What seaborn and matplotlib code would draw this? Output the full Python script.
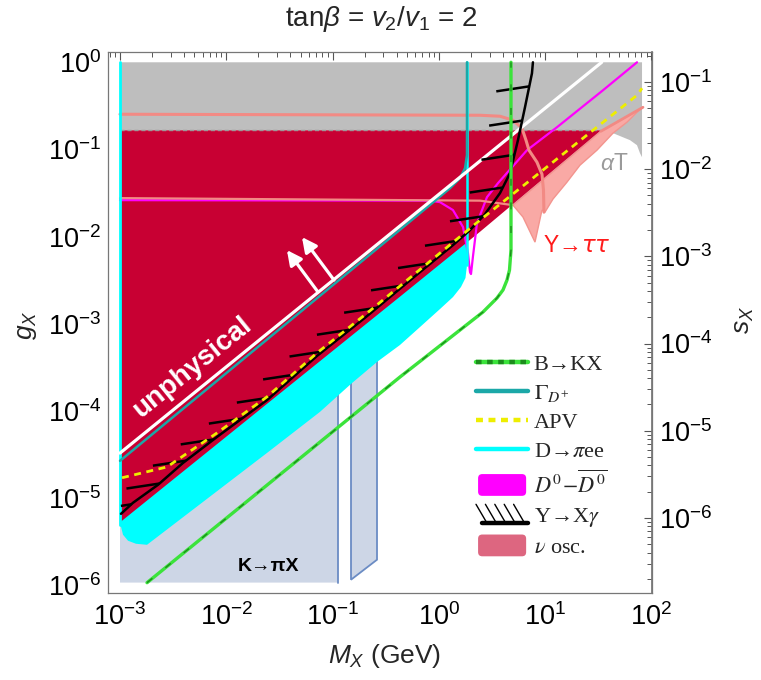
import numpy as np
import matplotlib
matplotlib.use("Agg")
import matplotlib.pyplot as plt
import seaborn as sns
from matplotlib.lines import Line2D
from matplotlib.patches import Patch, FancyBboxPatch
from matplotlib.legend_handler import HandlerBase, HandlerTuple
from matplotlib.font_manager import FontProperties
from matplotlib.ticker import LogLocator, FixedLocator, NullFormatter

sns.set_theme(style="white")
plt.rcParams["font.family"] = ["Liberation Sans", "DejaVu Sans"]
plt.rcParams["mathtext.fontset"] = "custom"
plt.rcParams["mathtext.rm"] = "Liberation Sans"
plt.rcParams["mathtext.it"] = "Liberation Sans:italic"
plt.rcParams["mathtext.bf"] = "Liberation Sans:bold"
plt.rcParams["lines.scale_dashes"] = False

# ---------------- data: M_X (GeV) and g_X ----------------
M_MIN, M_MAX = 1.0e-3, 100.0
G_MIN, G_MAX = 1.08e-6, 1.0
S_OVER_G = 0.168          # s_X / g_X (right axis)

x_ticks = [1e-3, 1e-2, 1e-1, 1e0, 1e1, 1e2]
y_ticks = [1e-6, 1e-5, 1e-4, 1e-3, 1e-2, 1e-1, 1e0]
s_ticks = [1e-6, 1e-5, 1e-4, 1e-3, 1e-2, 1e-1]

# alpha T exclusion (gray)
aT_M = [1e-3, 81.5, 81.5, 78.0, 73.1, 62.8, 54.0, 43.4, 33.5, 1e-3]
aT_g = [1.0, 1.0, 0.0816, 0.0907, 0.112, 0.128, 0.138, 0.154, 0.166, 0.166]

# main excluded region (crimson)
crim_M = [1e-3, 33.5, 2.44, 0.43, 1e-3]
crim_g = [0.166, 0.166, 0.0114, 2.05e-3, 5.3e-6]

# D -> pi e e region (cyan)
dpee_M = [1e-3, 0.43, 1.84, 1.84, 1.779, 1.614, 1.357, 1.024, 0.664, 0.4305, 0.2617,
          0.149, 0.0761, 0.0242, 1.795e-3, 1.414e-3, 1.19e-3, 1.067e-3, 1.022e-3, 1e-3]
dpee_g = [8e-6, 2.6e-3, 0.0105, 4.73e-3, 3.36e-3, 2.65e-3, 2.03e-3, 1.48e-3, 9.2e-4, 5.73e-4,
          3.66e-4, 2.05e-4, 9.8e-5, 3.32e-5, 2.93e-6, 3.01e-6, 3.26e-6, 3.82e-6, 4.72e-6, 5.67e-6]

# K -> pi X regions
kpi1_M = [1e-3, 0.1125, 0.1125, 1e-3]
kpi1_g = [G_MIN, G_MIN, 1.75e-4, 5.5e-6]
kpi2_M = [0.149, 0.149, 0.2617, 0.2617]
kpi2_g = [1.165e-6, 2.4e-4, 4.4e-4, 1.976e-6]

# nu oscillation region (light) and its boundaries
nuf_M = [4.98, 33.5, 83.2, 73.1, 58.8, 43.4, 30.7, 21.26, 16.03, 11.84, 9.95, 9.33, 8.02, 6.18]
nuf_g = [0.0230, 0.162, 0.305, 0.2675, 0.2055, 0.1537, 0.0982, 0.0661, 0.0422, 0.0270,
         0.0191, 0.0202, 8.67e-3, 0.0168]
nu1_M = [1e-3, 2.44, 3.757, 4.98, 6.05, 6.60, 7.04, 8.37, 9.33, 9.64, 9.74]
nu1_g = [0.2537, 0.247, 0.2406, 0.2166, 0.1754, 0.1278, 0.0982, 0.0715, 0.0521, 0.0342, 0.0191]
nu2_M = [1e-3, 2.44, 4.98]
nu2_g = [0.0277, 0.0259, 0.0230]
nu3_M = [33.5, 83.2]
nu3_g = [0.162, 0.305]

# B -> K X
bkx_M = [1.795e-3, 0.4305, 2.599, 3.52, 4.01, 4.373, 4.615, 4.768, 4.768]
bkx_g = [1.077e-6, 2.46e-4, 1.368e-3, 1.98e-3, 2.45e-3, 3.18e-3, 4.14e-3, 7.03e-3, 1.0]

# unphysical boundary
unph_M = [1e-3, 34.0]
unph_g = [3.3e-5, 1.0]

# Gamma_D+
gam_M = [1.0e-3, 0.664, 1.272, 1.579, 1.761, 1.838, 1.838]
gam_g = [2.69e-5, 0.0186, 0.0360, 0.0469, 0.0610, 0.0861, 1.0]

# APV
apv_M = [1.045e-3, 2.77e-3, 8.18e-3, 0.0242, 0.0713, 0.211, 2.44, 73.1, 81.5]
apv_g = [1.72e-5, 2.29e-5, 5.62e-5, 1.46e-4, 4.64e-4, 1.33e-3, 0.0155, 0.419, 0.504]

# Upsilon -> X gamma
ups_M = [1.022e-3, 1.324e-3, 2.28e-3, 3.92e-3, 8.18e-3, 0.0242, 0.0713, 0.211, 0.664,
         1.357, 1.962, 2.716, 3.757, 4.666, 5.546, 6.457, 7.51, 7.67]
ups_g = [6.64e-6, 8.88e-6, 1.43e-5, 2.55e-5, 5.06e-5, 1.34e-4, 4.29e-4, 1.23e-3, 3.93e-3,
         8.01e-3, 0.0119, 0.01815, 0.0316, 0.0536, 0.128, 0.305, 0.748, 1.0]

# D0 - D0bar mixing
dd_M = [1e-3, 0.825, 1.024, 1.357, 1.686, 1.878, 1.962, 2.005, 2.094, 2.283, 2.835, 3.597,
        6.744, 12.91, 35.0, 73.1]
dd_g = [0.02625, 0.0259, 0.0249, 0.0202, 0.0129, 6.49e-3, 3.93e-3, 3.73e-3, 5.99e-3, 0.0143,
        0.0284, 0.0411, 0.0982, 0.180, 0.478, 1.0]

# D -> pi e e boundary lines
dpee_left_M = [1.01e-3, 1.01e-3]
dpee_left_g = [5.0e-6, 1.0]
dpee_right_M = [1.84, 1.84]
dpee_right_g = [4.7e-3, 1.0]

# arrows (tail, head)
arrows = [((0.0729, 2.32e-3), (0.0372, 7.02e-3)), ((0.1031, 3.18e-3), (0.0515, 9.9e-3))]

legend_labels = ["B→KX", r"$\Gamma_{D^{+}}$", "APV", r"D→$\pi$ee",
                 r"$D^0\!-\!\overline{D^0}$", r"Υ→X$\gamma$", r"$\nu$ osc."]

# ---------------- colours ----------------
C_GRAY = "#BEBEBE"
C_CRIM = "#C80033"
C_CYAN = "#00FFFF"
C_KPI = "#CDD6E6"
C_KPI_E = "#6B8CC4"
C_NUF = "#F9A9A5"
C_SALM = "#F28A84"
C_MAG = "#FF00FF"
C_TEAL = "#1BA8A8"
C_YEL = "#EEEE00"
C_GRN = "#3BE33B"
C_DGRN = "#1C8C1C"

fig = plt.figure(figsize=(7.61, 6.8), dpi=100)
ax = fig.add_axes([108/761, 87/680, 544/761, 541/680])
ax.set_xscale("log")
ax.set_yscale("log")
ax.set_xlim(10**-3.113, 10**2.005)
ax.set_ylim(10**-6.086, 10**0.118)
ax.xaxis.set_major_locator(FixedLocator(x_ticks))
ax.yaxis.set_major_locator(FixedLocator(y_ticks))
ax.xaxis.set_minor_locator(LogLocator(base=10, subs=np.arange(2, 10)))
ax.yaxis.set_minor_locator(LogLocator(base=10, subs=np.arange(2, 10)))
ax.xaxis.set_minor_formatter(NullFormatter())
ax.yaxis.set_minor_formatter(NullFormatter())


def line(M, g, color, lw, z, dashes=None, **kw):
    sns.lineplot(x=M, y=g, sort=False, estimator=None, color=color, lw=lw,
                 zorder=z, ax=ax, **kw)
    ln = ax.lines[-1]
    if dashes is not None:
        ln.set_dashes(dashes)
    return ln


# regions
ax.fill(kpi1_M, kpi1_g, color=C_KPI, lw=0, zorder=1)
line([0.1125, 0.1125], [G_MIN, 1.75e-4], C_KPI_E, 1.3, 1.1)
ax.fill(kpi2_M, kpi2_g, facecolor=C_KPI, edgecolor=C_KPI_E, lw=1.3, zorder=1)
ax.fill(aT_M, aT_g, color=C_GRAY, lw=0, zorder=1)
ax.fill(nuf_M, nuf_g, facecolor=C_NUF, edgecolor="#F3948E", lw=1.0, zorder=2)
ax.fill(dpee_M, dpee_g, color=C_CYAN, lw=0, zorder=2)
ax.fill(crim_M, crim_g, color=C_CRIM, lw=0, zorder=3)
line([1e-3, 33.5], [0.166, 0.166], "#9A9A9A", 1.0, 3.5, dashes=(3, 2))

# boundary lines
line(nu1_M, nu1_g, C_SALM, 2.2, 4.2)
line(nu3_M, nu3_g, C_SALM, 2.0, 4.2)
line(dd_M, dd_g, C_MAG, 1.6, 4.0)
line(nu2_M, nu2_g, C_SALM, 1.6, 4.1)
line(dpee_left_M, dpee_left_g, C_CYAN, 2.0, 4.3)
line(dpee_right_M, dpee_right_g, C_CYAN, 1.8, 4.3)
line(gam_M, gam_g, C_TEAL, 1.8, 4.5)
line(unph_M, unph_g, "white", 2.3, 5.0)
line(ups_M, ups_g, "black", 1.8, 5.5)
line(apv_M, apv_g, C_YEL, 2.0, 6.0, dashes=(5, 4))
line(bkx_M, bkx_g, C_GRN, 2.4, 7.0)
line(bkx_M, bkx_g, C_DGRN, 1.0, 7.1, dashes=(5, 12))

# hatches on the Upsilon -> X gamma bound
pts = ax.transData.transform(np.column_stack([ups_M, ups_g]))
seg = np.hypot(*np.diff(pts, axis=0).T)
s = np.concatenate([[0], np.cumsum(seg)])
xmin_disp = ax.transData.transform((M_MIN * 1.02, 1.0))[0]
off = np.array([-33.0, -5.0])
for t in np.arange(14, s[-1] - 8, 35):
    p = np.array([np.interp(t, s, pts[:, 0]), np.interp(t, s, pts[:, 1])])
    q = p + off
    if q[0] < xmin_disp:
        q = p + off * (p[0] - xmin_disp) / 33.0
    P = ax.transData.inverted().transform(np.vstack([q, p]))
    ax.plot(P[:, 0], P[:, 1], color="black", lw=1.8, solid_capstyle="butt", zorder=5.5)

# arrows
for tail, head in arrows:
    ax.annotate("", xy=head, xytext=tail,
                arrowprops=dict(arrowstyle="-|>", color="white", lw=2.3,
                                mutation_scale=22, shrinkA=0, shrinkB=0), zorder=8)

# labels inside the plot
ax.text(4.75e-3, 3.2e-4, "unphysical", color="white", fontsize=20, fontweight="bold",
        rotation=39, ha="center", va="center", rotation_mode="anchor", zorder=9)
ax.text(19.9, 8.0e-3, r"Υ→$\tau\tau$", color="#FF1A1A", fontsize=16.5, ha="center",
        va="center", zorder=9, math_fontfamily="dejavusans")
ax.text(44.5, 0.0697, r"$\alpha$T", color="#9A9A9A", fontsize=16.5, ha="center",
        va="center", zorder=9)
ax.text(0.0252, 1.64e-6, "K→πX", color="black", fontsize=14, fontweight="bold",
        ha="center", va="center", zorder=9)

# axes styling
for sp in ax.spines.values():
    sp.set_color("#777777")
    sp.set_linewidth(0.9)
ax.tick_params(which="both", direction="in", top=True, right=False, colors="#555555",
               labelcolor="black", labelsize=19.5)
ax.tick_params(which="major", length=6, width=0.8)
ax.tick_params(which="minor", length=3.5, width=0.7)
ax.tick_params(axis="x", pad=7)
ax.tick_params(axis="y", pad=5)

sec = ax.secondary_yaxis("right", functions=(lambda g: g * S_OVER_G, lambda sv: sv / S_OVER_G))
sec.yaxis.set_major_locator(FixedLocator(s_ticks))
sec.yaxis.set_minor_locator(LogLocator(base=10, subs=np.arange(2, 10)))
sec.yaxis.set_minor_formatter(NullFormatter())
sec.tick_params(which="both", direction="in", colors="#555555", labelcolor="black",
                labelsize=19.5, pad=5)
sec.tick_params(which="major", length=6, width=0.8)
sec.tick_params(which="minor", length=3.5, width=0.7)
sec.spines["right"].set_color("#777777")

fig.text(381/761, 1 - 19/680, r"tan$\beta$ = $v_2/v_1$ = 2", fontsize=20,
         ha="center", va="center")
fig.text(385/761, 1 - 656/680, r"$M_X$ (GeV)", fontsize=19, ha="center", va="center")
fig.text(27/761, 1 - 325/680, r"$g_X$", fontsize=19, ha="center", va="center", rotation=90)
fig.text(744/761, 1 - 320/680, r"$s_X$", fontsize=19, ha="center", va="center", rotation=90)


# legend
class HatchKey:
    pass


class HatchHandler(HandlerBase):
    def create_artists(self, legend, orig_handle, xdescent, ydescent, width, height,
                       fontsize, trans):
        x0, y0 = -xdescent, -ydescent
        arts = [Line2D([x0 + 0.12 * width, x0 + width], [y0 - 0.05 * height] * 2,
                       color="black", lw=3.2, transform=trans)]
        for i in range(5):
            xs = x0 + i * 0.18 * width
            arts.append(Line2D([xs, xs + 0.2 * width], [y0 + 1.15 * height, y0],
                               color="black", lw=1.0, transform=trans))
        return arts


class RoundBoxHandler(HandlerBase):
    def create_artists(self, legend, orig_handle, xdescent, ydescent, width, height,
                       fontsize, trans):
        p = FancyBboxPatch((-xdescent + 1.5, -ydescent - 0.2 * height), width - 3,
                           height * 1.4, boxstyle="round,pad=0,rounding_size=3",
                           fc=orig_handle.get_facecolor(), ec="none", transform=trans)
        return [p]


h_bkx = (Line2D([], [], color=C_GRN, lw=3.2),
         Line2D([], [], color=C_DGRN, lw=3.2, dashes=(4, 4)))
h_gam = Line2D([], [], color=C_TEAL, lw=3.2)
h_apv = Line2D([], [], color=C_YEL, lw=3.2, dashes=(5, 4))
h_dpe = Line2D([], [], color=C_CYAN, lw=3.2)
h_dd = Patch(facecolor=C_MAG)
h_ups = HatchKey()
h_nu = Patch(facecolor="#DD6680")

fp = FontProperties(family="Liberation Serif", size=16, math_fontfamily="stix")
leg = ax.legend([h_bkx, h_gam, h_apv, h_dpe, h_dd, h_ups, h_nu], legend_labels,
                handler_map={tuple: HandlerTuple(ndivide=1), HatchKey: HatchHandler(),
                             Patch: RoundBoxHandler()},
                prop=fp, frameon=False, loc="upper left",
                bbox_to_anchor=(476/761, 1 - 354/680), bbox_transform=fig.transFigure,
                borderpad=0, borderaxespad=0, handlelength=2.35, handletextpad=0.25,
                labelspacing=0.38)
leg.set_zorder(10)

fig.savefig("out.png", dpi=100)
